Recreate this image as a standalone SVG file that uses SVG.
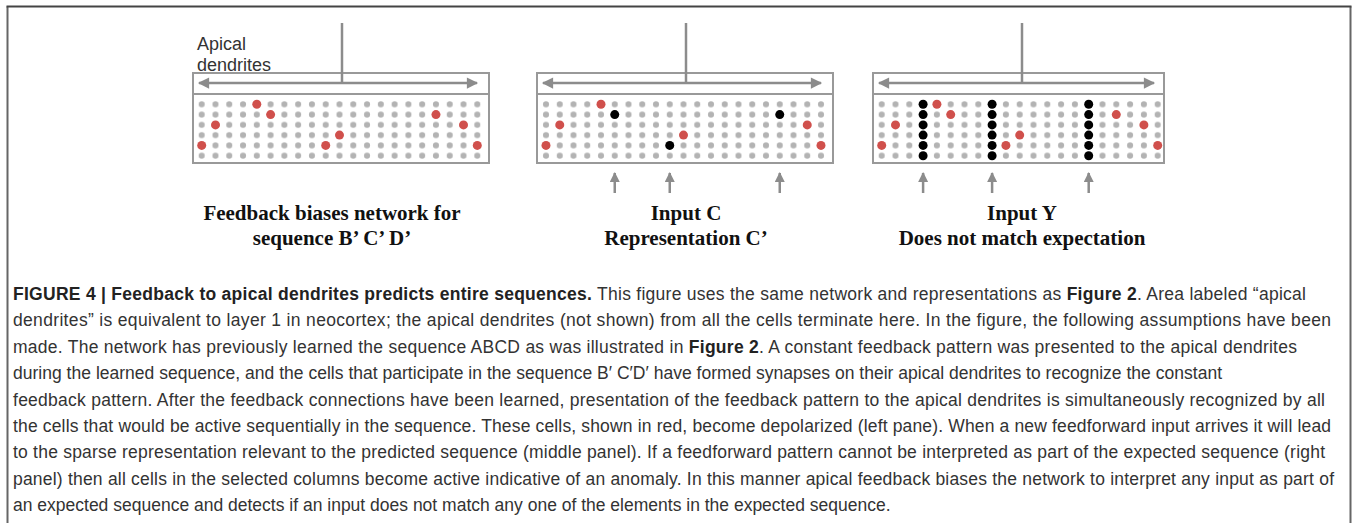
<svg xmlns="http://www.w3.org/2000/svg" width="1358" height="523" viewBox="0 0 1358 523">
<style>
.frame{fill:none;stroke:#666;stroke-width:2}
.top{stroke:#444;stroke-width:2}
.box{fill:#fff;stroke:#999;stroke-width:2}
.div{stroke:#999;stroke-width:2}
.gline{stroke:#8c8c8c;stroke-width:2.5;fill:none}
.red{fill:#d0504c}
.blk{fill:#000}
.lbl{font-family:"Liberation Serif","Times New Roman",serif;font-weight:bold;font-size:21px;fill:#111;text-anchor:middle}
.ap{font-family:"Liberation Sans",Arial,sans-serif;font-size:18px;fill:#333}
.cap{font-family:"Liberation Sans",Arial,sans-serif;font-size:17.5px;fill:#333}
.b{font-weight:bold;fill:#222}
</style>
<defs>
<marker id="ah" viewBox="0 0 10 10" refX="9" refY="5" markerWidth="5" markerHeight="4.5" markerUnits="strokeWidth" orient="auto-start-reverse">
<path d="M0,0 L10,5 L0,10 z" fill="#8c8c8c"/>
</marker>
<marker id="up" viewBox="0 0 10 10" refX="9" refY="5" markerWidth="4" markerHeight="4" markerUnits="strokeWidth" orient="auto">
<path d="M0,0 L10,5 L0,10 z" fill="#8c8c8c"/>
</marker>
<pattern id="g1" patternUnits="userSpaceOnUse" x="194.81" y="99.16" width="13.78" height="10.28"><circle cx="6.89" cy="5.14" r="3" fill="#b3b3b3"/></pattern>
<pattern id="g2" patternUnits="userSpaceOnUse" x="539.125" y="99.16" width="13.75" height="10.28"><circle cx="6.875" cy="5.14" r="3" fill="#b3b3b3"/></pattern>
<pattern id="g3" patternUnits="userSpaceOnUse" x="874.8" y="99.16" width="13.8" height="10.28"><circle cx="6.9" cy="5.14" r="3" fill="#b3b3b3"/></pattern>
</defs>
<rect width="1358" height="523" fill="#fff"/>
<path class="frame" d="M7.5,523 V6.5 M1350.5,6.5 V523"/>
<line class="top" x1="6.5" y1="6.5" x2="1351.5" y2="6.5"/>

<g id="panel1">
<text class="ap" x="197" y="50">Apical</text>
<text class="ap" x="197" y="70.5">dendrites</text>
<rect class="box" x="193" y="73" width="296" height="90"/>
<line class="div" x1="193" y1="94" x2="489" y2="94"/>
<line class="gline" x1="342" y1="23" x2="342" y2="83"/>
<line class="gline" x1="199" y1="83" x2="477" y2="83" marker-start="url(#ah)" marker-end="url(#ah)"/>
<rect x="194.81" y="99.16" width="289.38" height="61.68" fill="url(#g1)"/>
<g class="red">
<circle cx="256.8" cy="104.3" r="4.5"/><circle cx="270.6" cy="114.6" r="4.5"/><circle cx="215.5" cy="124.9" r="4.5"/>
<circle cx="339.5" cy="135.1" r="4.5"/><circle cx="201.7" cy="145.4" r="4.5"/><circle cx="325.7" cy="145.4" r="4.5"/>
<circle cx="435.96" cy="114.6" r="4.5"/><circle cx="463.5" cy="124.9" r="4.5"/><circle cx="477.3" cy="145.4" r="4.5"/>
</g>
<text class="lbl" x="332" y="220">Feedback biases network for</text>
<text class="lbl" x="332" y="245">sequence B’ C’ D’</text>
</g>

<g id="panel2">
<rect class="box" x="537" y="73" width="296" height="90"/>
<line class="div" x1="537" y1="94" x2="833" y2="94"/>
<line class="gline" x1="686" y1="23" x2="686" y2="83"/>
<line class="gline" x1="543" y1="83" x2="821" y2="83" marker-start="url(#ah)" marker-end="url(#ah)"/>
<rect x="539.125" y="99.16" width="288.75" height="61.68" fill="url(#g2)"/>
<g class="red">
<circle cx="601" cy="104.3" r="4.5"/><circle cx="559.75" cy="124.9" r="4.5"/><circle cx="683.5" cy="135.1" r="4.5"/>
<circle cx="546" cy="145.4" r="4.5"/><circle cx="807.25" cy="124.9" r="4.5"/><circle cx="821" cy="145.4" r="4.5"/>
</g>
<g class="blk">
<circle cx="614.75" cy="114.6" r="4.5"/><circle cx="669.75" cy="145.4" r="4.5"/><circle cx="779.75" cy="114.6" r="4.5"/>
</g>
<text class="lbl" x="686" y="220">Input C</text>
<text class="lbl" x="686" y="245">Representation C’</text>
</g>

<g id="panel3">
<rect class="box" x="873" y="73" width="291" height="90"/>
<line class="div" x1="873" y1="94" x2="1164" y2="94"/>
<line class="gline" x1="1022" y1="23" x2="1022" y2="83"/>
<line class="gline" x1="879" y1="83" x2="1154" y2="83" marker-start="url(#ah)" marker-end="url(#ah)"/>
<rect x="874.8" y="99.16" width="289.8" height="61.68" fill="url(#g3)"/>
<g class="red">
<circle cx="936.9" cy="104.3" r="4.5"/><circle cx="950.7" cy="114.6" r="4.5"/><circle cx="895.5" cy="124.9" r="4.5"/>
<circle cx="1019.7" cy="135.1" r="4.5"/><circle cx="881.7" cy="145.4" r="4.5"/><circle cx="1005.9" cy="145.4" r="4.5"/>
<circle cx="1116.3" cy="114.6" r="4.5"/><circle cx="1143.9" cy="124.9" r="4.5"/><circle cx="1157.7" cy="145.4" r="4.5"/>
</g>
<g class="blk">
<circle cx="923.1" cy="104.3" r="4.5"/><circle cx="923.1" cy="114.6" r="4.5"/><circle cx="923.1" cy="124.9" r="4.5"/><circle cx="923.1" cy="135.1" r="4.5"/><circle cx="923.1" cy="145.4" r="4.5"/><circle cx="923.1" cy="155.7" r="4.5"/>
<circle cx="992.1" cy="104.3" r="4.5"/><circle cx="992.1" cy="114.6" r="4.5"/><circle cx="992.1" cy="124.9" r="4.5"/><circle cx="992.1" cy="135.1" r="4.5"/><circle cx="992.1" cy="145.4" r="4.5"/><circle cx="992.1" cy="155.7" r="4.5"/>
<circle cx="1088.7" cy="104.3" r="4.5"/><circle cx="1088.7" cy="114.6" r="4.5"/><circle cx="1088.7" cy="124.9" r="4.5"/><circle cx="1088.7" cy="135.1" r="4.5"/><circle cx="1088.7" cy="145.4" r="4.5"/><circle cx="1088.7" cy="155.7" r="4.5"/>
</g>
<text class="lbl" x="1022" y="220">Input Y</text>
<text class="lbl" x="1022" y="245">Does not match expectation</text>
</g>

<g id="connectors">
<line class="gline" x1="614.75" y1="193" x2="614.75" y2="173" marker-end="url(#up)"/>
<line class="gline" x1="669.75" y1="193" x2="669.75" y2="173" marker-end="url(#up)"/>
<line class="gline" x1="779.75" y1="193" x2="779.75" y2="173" marker-end="url(#up)"/>
<line class="gline" x1="923.1" y1="193" x2="923.1" y2="173" marker-end="url(#up)"/>
<line class="gline" x1="992.1" y1="193" x2="992.1" y2="173" marker-end="url(#up)"/>
<line class="gline" x1="1088.7" y1="193" x2="1088.7" y2="173" marker-end="url(#up)"/>
</g>

<g id="caption" class="cap">
<text x="13" y="300" textLength="1293"><tspan class="b">FIGURE 4 | Feedback to apical dendrites predicts entire sequences.</tspan> This figure uses the same network and representations as <tspan class="b">Figure 2</tspan>. Area labeled “apical</text>
<text x="13" y="326.4" textLength="1318">dendrites” is equivalent to layer 1 in neocortex; the apical dendrites (not shown) from all the cells terminate here. In the figure, the following assumptions have been</text>
<text x="13" y="352.8" textLength="1284">made. The network has previously learned the sequence ABCD as was illustrated in <tspan class="b">Figure 2</tspan>. A constant feedback pattern was presented to the apical dendrites</text>
<text x="13" y="379.2" textLength="1209">during the learned sequence, and the cells that participate in the sequence B′ C′D′ have formed synapses on their apical dendrites to recognize the constant</text>
<text x="13" y="405.6" textLength="1312">feedback pattern. After the feedback connections have been learned, presentation of the feedback pattern to the apical dendrites is simultaneously recognized by all</text>
<text x="13" y="432" textLength="1318">the cells that would be active sequentially in the sequence. These cells, shown in red, become depolarized (left pane). When a new feedforward input arrives it will lead</text>
<text x="13" y="458.4" textLength="1312">to the sparse representation relevant to the predicted sequence (middle panel). If a feedforward pattern cannot be interpreted as part of the expected sequence (right</text>
<text x="13" y="484.8" textLength="1321">panel) then all cells in the selected columns become active indicative of an anomaly. In this manner apical feedback biases the network to interpret any input as part of</text>
<text x="13" y="511.2">an expected sequence and detects if an input does not match any one of the elements in the expected sequence.</text>
</g>
</svg>
